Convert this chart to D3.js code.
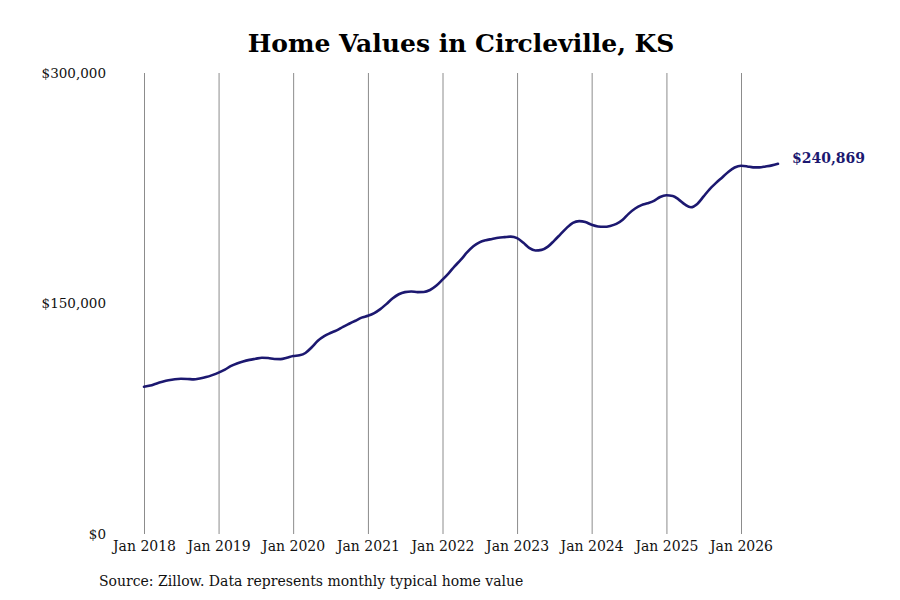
<!DOCTYPE html>
<html>
<head>
<meta charset="utf-8">
<script src="https://cdn.jsdelivr.net/npm/d3@7"></script>
<style>
  body { margin: 0; background: #fff; }
  text { font-family: "DejaVu Serif", serif; }
</style>
</head>
<body>
<svg id="chart"></svg>
<script>
/* data, monthly typical home value, Jan 2018 - Jul 2026 */
var startMonth = "2018-01";
var homeValues = [
  95800, 96600, 97800, 99000, 100000, 100700, 101000, 100900, 100600, 101200, 102100, 103400, // 2018
  105000, 107000, 109200, 111000, 112300, 113300, 114000, 114700, 114500, 113900, 113800, 114700, // 2019
  115800, 116300, 117800, 121500, 125800, 128800, 130800, 132500, 134800, 136800, 138800, 140800, // 2020
  142000, 143800, 146200, 149600, 153200, 156000, 157400, 157800, 157400, 157500, 158800, 161500, // 2021
  165500, 169800, 174200, 178500, 183200, 187200, 189800, 191200, 192000, 192800, 193200, 193500, // 2022
  192500, 189500, 186200, 184500, 184900, 187000, 190800, 195000, 199200, 202500, 203600, 203000, // 2023
  201200, 200100, 199900, 200500, 201800, 204500, 208500, 211800, 214000, 215200, 216800, 219300, // 2024
  220400, 220000, 217800, 214500, 212600, 214800, 219500, 224500, 228500, 232000, 235800, 238500, // 2025
  239600, 239200, 238600, 238600, 239200, 239900, 240869                                           // 2026
];
var yTicks = [0, 150000, 300000];
var xTickYears = [2018, 2019, 2020, 2021, 2022, 2023, 2024, 2025, 2026];
var title = "Home Values in Circleville, KS";
var source = "Source: Zillow. Data represents monthly typical home value";

var width = 900, height = 600;
var margin = { top: 73, bottom: 66, left: 144, right: 159 };
var lineColor = "#1c1870";

var parseMonth = d3.timeParse("%Y-%m");
var t0 = parseMonth(startMonth);
var data = homeValues.map(function(v, i) {
  return { date: d3.timeMonth.offset(t0, i), value: v };
});

var svg = d3.select("#chart")
  .attr("width", width)
  .attr("height", height);

/* scales: the grid runs Jan 2018 .. Jan 2026 */
var xScale = d3.scaleTime()
  .domain([new Date(xTickYears[0], 0, 1), new Date(xTickYears[xTickYears.length - 1], 0, 1)])
  .range([margin.left, width - margin.right]);
var yScale = d3.scaleLinear()
  .domain([0, 300000])
  .range([height - margin.bottom, margin.top]);

/* title */
svg.append("text")
  .attr("x", 461)
  .attr("y", 52)
  .attr("text-anchor", "middle")
  .style("font-size", "25px")
  .style("font-weight", "bold")
  .style("fill", "#000")
  .text(title);

/* vertical grid + x axis labels */
var xTickDates = xTickYears.map(function(y) { return new Date(y, 0, 1); });
var xAxis = d3.axisBottom(xScale)
  .tickValues(xTickDates)
  .tickSize(-(yScale.range()[0] - yScale.range()[1]))
  .tickPadding(4)
  .tickFormat(d3.timeFormat("Jan %Y"));

var xAxisG = svg.append("g")
  .attr("class", "x-axis")
  .attr("transform", "translate(0," + yScale(0) + ")")
  .call(xAxis);
xAxisG.select(".domain").remove();
xAxisG.selectAll(".tick line")
  .attr("stroke", "#8c8c8c")
  .attr("stroke-width", 1);
xAxisG.selectAll(".tick text")
  .style("font-size", "14px")
  .style("fill", "#111")
  .attr("dy", "0.9em");

/* y axis labels, no line */
var yAxis = d3.axisLeft(yScale)
  .tickValues(yTicks)
  .tickSize(0)
  .tickPadding(38)
  .tickFormat(function(d) { return "$" + d3.format(",")(d); });

var yAxisG = svg.append("g")
  .attr("class", "y-axis")
  .attr("transform", "translate(" + margin.left + ",0)")
  .call(yAxis);
yAxisG.select(".domain").remove();
yAxisG.selectAll(".tick text")
  .style("font-size", "13.5px")
  .style("fill", "#111");

/* line */
var line = d3.line()
  .x(function(d) { return xScale(d.date); })
  .y(function(d) { return yScale(d.value); })
  .curve(d3.curveMonotoneX);

svg.append("path")
  .datum(data)
  .attr("fill", "none")
  .attr("stroke", lineColor)
  .attr("stroke-width", 2.6)
  .attr("stroke-linejoin", "round")
  .attr("stroke-linecap", "round")
  .attr("d", line);

/* last value label */
var last = data[data.length - 1];
svg.append("text")
  .attr("x", xScale(last.date) + 14)
  .attr("y", yScale(last.value) - 6)
  .attr("dy", "0.35em")
  .style("font-size", "14px")
  .style("font-weight", "bold")
  .style("fill", lineColor)
  .text("$" + d3.format(",")(last.value));

/* source note */
svg.append("text")
  .attr("x", 99)
  .attr("y", 586)
  .style("font-size", "14px")
  .style("fill", "#111")
  .text(source);
</script>
</body>
</html>
